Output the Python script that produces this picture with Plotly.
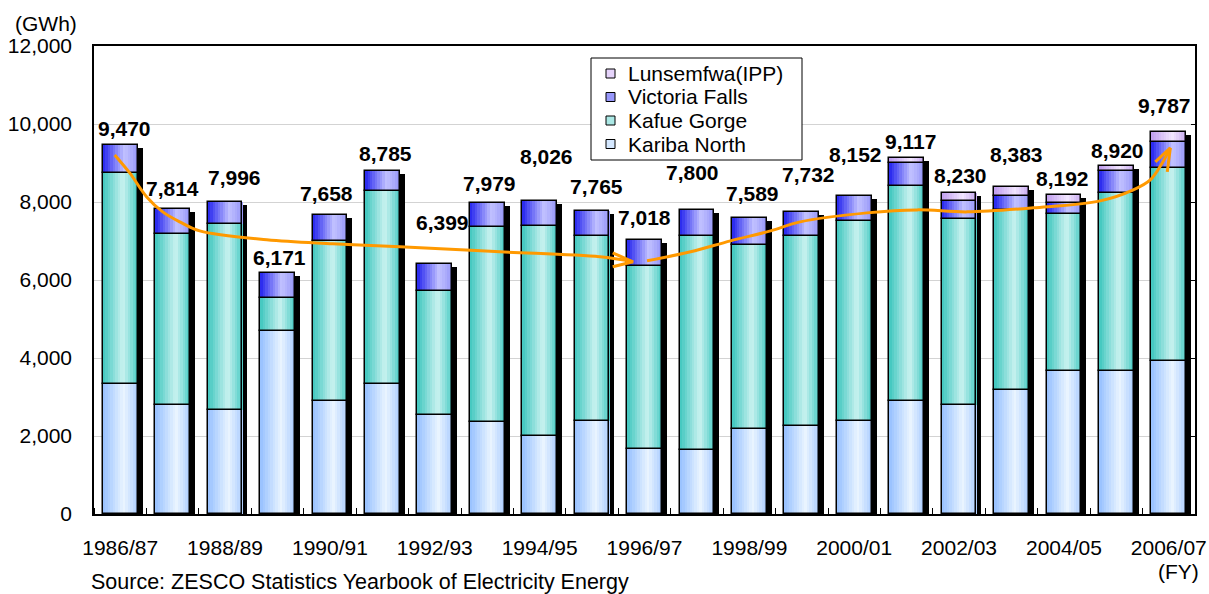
import plotly.graph_objects as go

# Fiscal years (x categories)
fiscal_years = ["1986/87", "1987/88", "1988/89", "1989/90", "1990/91", "1991/92",
                "1992/93", "1993/94", "1994/95", "1995/96", "1996/97", "1997/98",
                "1998/99", "1999/00", "2000/01", "2001/02", "2002/03", "2003/04",
                "2004/05", "2005/06", "2006/07"]

# Generation by power station (GWh)
kariba_north = [3340, 2800, 2670, 4700, 2900, 3340, 2540, 2350, 2000, 2390, 1670,
                1630, 2170, 2260, 2390, 2890, 2800, 3170, 3660, 3660, 3920]
kafue_gorge = [5400, 4370, 4760, 850, 4100, 4940, 3190, 5000, 5390, 4730, 4690,
               5490, 4720, 4860, 5120, 5520, 4770, 4620, 4040, 4570, 4940]
victoria_falls = [730, 644, 566, 621, 658, 505, 669, 629, 636, 645, 658,
                  680, 699, 612, 642, 585, 454, 354, 274, 560, 680]
lunsemfwa_ipp = [None, None, None, None, None, None, None, None, None, None, None,
                 None, None, None, None, 122, 206, 239, 218, 130, 247]

y_ticks = [0, 2000, 4000, 6000, 8000, 10000, 12000]

# Label placement tweaks (pixels) for the total labels
label_dx = [4, 0, 9, 2, -3, 3, 8, 2, 7, 4, 0, -4, 3, 7, 1, 4, 1, 5, -1, 1, -4]
label_dy = [16, 21, 25, 16, 22, 18, 42, 19, 44, 25, 23, 37, 25, 38, 42, 17, 18, 33, 16, 16, 27]

FONT = "Liberation Sans, Arial, sans-serif"
W, H = 1209, 594
ML, MR, MT, MB = 94, 14, 46, 80
PW, PH = W - ML - MR, H - MT - MB

def xp(px):
    return (px - ML) / PW

def yp(py):
    return (H - MB - py) / PH

# station name, values, gradient stops (position, rgb) across the bar width
stations = [
    ("Kariba North", kariba_north,
     [(0.0, (150, 192, 255)), (0.6, (234, 245, 255)), (1.0, (172, 206, 255))]),
    ("Kafue Gorge", kafue_gorge,
     [(0.0, (62, 198, 190)), (0.58, (202, 242, 240)), (1.0, (76, 204, 197))]),
    ("Victoria Falls", victoria_falls,
     [(0.0, (36, 36, 238)), (0.62, (194, 194, 255)), (1.0, (150, 150, 248))]),
    ("Lunsemfwa(IPP)", lunsemfwa_ipp,
     [(0.0, (192, 158, 238)), (0.6, (242, 230, 255)), (1.0, (200, 170, 240))]),
]

def shade(stops, t):
    for (p0, c0), (p1, c1) in zip(stops[:-1], stops[1:]):
        if p0 <= t <= p1:
            f = (t - p0) / (p1 - p0)
            r, g, b = (round(a + (bb - a) * f) for a, bb in zip(c0, c1))
            return f"rgb({r},{g},{b})"
    r, g, b = stops[-1][1]
    return f"rgb({r},{g},{b})"

n = len(fiscal_years)
xs = list(range(n))
totals = [sum(v for v in col if v is not None)
          for col in zip(kariba_north, kafue_gorge, victoria_falls, lunsemfwa_ipp)]

BAR_W = 0.66
SLICES = 14
px_per_unit = PH / 12000
shadow_dx = 5 / (PW / n)
shadow_drop = 3 / px_per_unit

fig = go.Figure()

# drop shadow behind each column
fig.add_trace(go.Bar(
    x=xs, y=[t - shadow_drop for t in totals], width=BAR_W,
    offset=-BAR_W / 2 + shadow_dx,
    marker=dict(color="black", line=dict(width=0)),
    showlegend=False, hoverinfo="skip"))

# stacked segments with a horizontal colour gradient
running = [0] * n
for name, vals, stops in stations:
    bases = list(running)
    for i in range(SLICES):
        t = (i + 0.5) / SLICES
        fig.add_trace(go.Bar(
            x=xs, y=vals, base=bases,
            width=BAR_W / SLICES * 1.08,
            offset=-BAR_W / 2 + i * BAR_W / SLICES,
            marker=dict(color=shade(stops, t), line=dict(width=0)),
            showlegend=False, hoverinfo="skip"))
    fig.add_trace(go.Bar(
        x=xs, y=vals, base=bases, width=BAR_W, offset=-BAR_W / 2,
        marker=dict(color="rgba(0,0,0,0)", line=dict(color="black", width=1.5)),
        name=name, showlegend=False,
        hovertemplate=name + ": %{y:,} GWh<extra></extra>"))
    running = [r + (v or 0) for r, v in zip(running, vals)]

# trend arrows (index units, GWh)
trend_down = [(-0.105, 9207), (0.181, 8746), (0.506, 8131), (0.811, 7747), (1.135, 7491),
              (1.517, 7260), (2.796, 7030), (4.055, 6928), (5.334, 6851), (7.243, 6723),
              (9.151, 6595), (9.781, 6467)]
head_down = [(9.393, 6697), (9.781, 6467), (9.393, 6338)]
trend_up = [(10.048, 6492), (10.878, 6723), (11.641, 7004), (12.405, 7260), (12.968, 7491),
            (14.246, 7721), (15.2, 7798), (16.155, 7747), (17.414, 7850), (18.693, 8029),
            (19.323, 8311), (19.647, 8567), (19.876, 9002), (20.029, 9386)]
head_up = [(19.743, 9028), (20.029, 9386), (19.971, 8771)]
ORANGE = "#FF9900"
for pts, shape in [(trend_down, "spline"), (trend_up, "spline"),
                   (head_down, "linear"), (head_up, "linear")]:
    fig.add_trace(go.Scatter(
        x=[p[0] for p in pts], y=[p[1] for p in pts], mode="lines",
        line=dict(color=ORANGE, width=3, shape=shape, smoothing=1.0),
        yaxis="y2", showlegend=False, hoverinfo="skip"))

annotations = []
for i, t in enumerate(totals):
    annotations.append(dict(
        x=i, y=t, xref="x", yref="y", text=f"{t:,}", showarrow=False,
        xanchor="center", yanchor="middle", xshift=label_dx[i], yshift=label_dy[i],
        font=dict(family=FONT, size=21, color="black", weight="bold")))

annotations += [
    dict(x=xp(46), y=yp(24), xref="paper", yref="paper", text="(GWh)", showarrow=False,
         xanchor="center", yanchor="middle", font=dict(family=FONT, size=21, color="black")),
    dict(x=xp(1178), y=yp(571), xref="paper", yref="paper", text="(FY)", showarrow=False,
         xanchor="center", yanchor="middle", font=dict(family=FONT, size=21, color="black")),
    dict(x=xp(89), y=yp(582), xref="paper", yref="paper",
         text="Source: ZESCO Statistics Yearbook of Electricity Energy", showarrow=False,
         xanchor="left", yanchor="middle", font=dict(family=FONT, size=21.5, color="black")),
]

# legend box
LEG_TOP, LEG_PITCH = 73.5, 23.5
shapes = [dict(type="rect", xref="paper", yref="paper",
               x0=xp(591), x1=xp(802), y0=yp(LEG_TOP + 3 * LEG_PITCH + 16), y1=yp(58),
               line=dict(color="black", width=1), fillcolor="white", layer="above")]
legend_rows = list(reversed(stations))
for k, (name, _, stops) in enumerate(legend_rows):
    cy = LEG_TOP + LEG_PITCH * k
    shapes.append(dict(type="rect", xref="paper", yref="paper",
                       x0=xp(606), x1=xp(615), y0=yp(cy + 4.5), y1=yp(cy - 4.5),
                       line=dict(color="black", width=1), fillcolor=shade(stops, 0.45),
                       layer="above"))
    annotations.append(dict(x=xp(627), y=yp(cy), xref="paper", yref="paper", text=name,
                            showarrow=False, xanchor="left", yanchor="middle", borderpad=0,
                            font=dict(family=FONT, size=21, color="black")))

fig.update_layout(
    width=W, height=H,
    margin=dict(l=ML, r=MR, t=MT, b=MB, pad=0, autoexpand=False),
    paper_bgcolor="white", plot_bgcolor="white",
    barmode="overlay", bargap=0,
    font=dict(family=FONT, size=21, color="black"),
    xaxis=dict(range=[-0.5, n - 0.5], tickmode="array", tickvals=xs[::2],
               ticktext=fiscal_years[::2], ticks="", showgrid=False, zeroline=False,
               showline=True, linecolor="black", linewidth=1.5, mirror=True,
               automargin=False,
               ticklabelstandoff=14, tickfont=dict(family=FONT, size=21),
               minor=dict(tickmode="array", tickvals=[i + 0.5 for i in range(-1, n)],
                          ticks="inside", ticklen=6, tickcolor="black", tickwidth=1.2,
                          showgrid=False)),
    yaxis=dict(range=[0, 12000], tickmode="array", tickvals=y_ticks, tickformat=",",
               showgrid=True, gridcolor="#D3D3D3", gridwidth=1, zeroline=False,
               showline=True, linecolor="black", linewidth=1.5, mirror=True, ticks="",
               automargin=False,
               ticklabelstandoff=16, tickfont=dict(family=FONT, size=21)),
    yaxis2=dict(range=[0, 12000], overlaying="y", side="right", tickmode="array",
                tickvals=y_ticks, ticks="inside", ticklen=4, tickcolor="black",
                automargin=False,
                showticklabels=False, showgrid=False, zeroline=False, showline=False),
    annotations=annotations, shapes=shapes,
    showlegend=False,
)

fig.write_html("out.html")
